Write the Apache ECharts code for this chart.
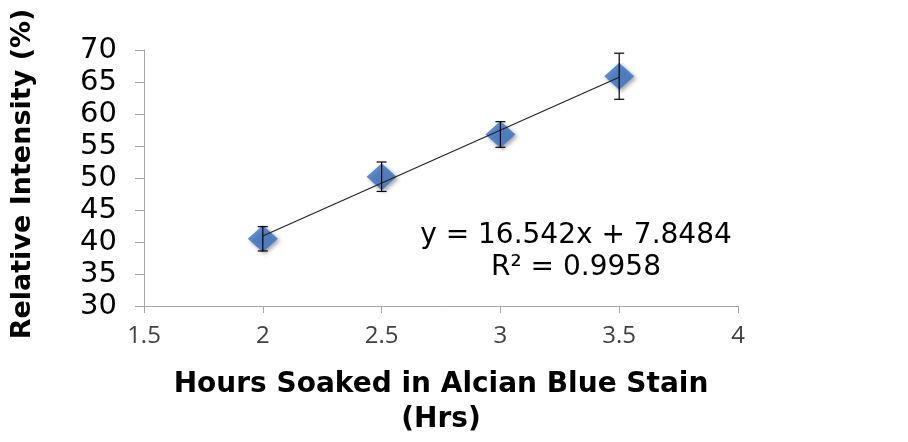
<!DOCTYPE html>
<html>
<head>
<meta charset="utf-8">
<script src="https://cdn.jsdelivr.net/npm/echarts@6/dist/echarts.min.js"></script>
<style>
html,body{margin:0;padding:0;background:#fff;}
#chart{width:908px;height:442px;}
</style>
</head>
<body>
<div id="chart"></div>
<script>
// Data
const hours = [2, 2.5, 3, 3.5];
const intensity = [40.5, 50.2, 56.8, 65.9];
const errorAmount = [1.9, 2.3, 2.0, 3.6];
// Linear trendline endpoints (as drawn)
const trendX = [2, 3.5];
const trendY = [40.93, 65.75];
const xTicks = [1.5, 2, 2.5, 3, 3.5, 4];
const yTicks = [30, 35, 40, 45, 50, 55, 60, 65, 70];
const equationText = 'y = 16.542x + 7.8484';
const r2Text = 'R² = 0.9958';
const xTitle = 'Hours Soaked in Alcian Blue Stain\n(Hrs)';
const yTitle = 'Relative Intensity (%)';

const chart = echarts.init(document.getElementById('chart'));
const points = hours.map((h, i) => [h, intensity[i]]);
const errData = hours.map((h, i) => [h, intensity[i] - errorAmount[i], intensity[i] + errorAmount[i]]);
const trendData = trendX.map((x, i) => [x, trendY[i]]);

const axisGray = '#a6a6a6';

chart.setOption({
  animation: false,
  backgroundColor: '#fff',
  grid: {left: 144, right: 170, top: 50, bottom: 135, containLabel: false},
  xAxis: {
    type: 'value',
    min: xTicks[0], max: xTicks[xTicks.length - 1], interval: 0.5,
    splitLine: {show: false},
    axisLine: {show: true, lineStyle: {color: axisGray, width: 1}},
    axisTick: {show: true, length: 7, lineStyle: {color: axisGray}},
    axisLabel: {fontFamily: 'Open Sans', fontSize: 24, color: '#404040', margin: 18},
    name: xTitle,
    nameLocation: 'middle',
    nameGap: 61,
    nameTextStyle: {fontFamily: 'DejaVu Sans', fontWeight: 'bold', fontSize: 28, color: '#000', lineHeight: 35}
  },
  yAxis: {
    type: 'value',
    min: yTicks[0], max: yTicks[yTicks.length - 1], interval: 5,
    splitLine: {show: false},
    axisLine: {show: true, lineStyle: {color: axisGray, width: 1}},
    axisTick: {show: true, length: 9, lineStyle: {color: axisGray}},
    axisLabel: {fontFamily: 'DejaVu Sans', fontSize: 29, color: '#000', margin: 27}
  },
  graphic: [
    {
      type: 'text', z: 10,
      x: 23, y: 174, rotation: Math.PI / 2,
      style: {text: yTitle, fontFamily: 'DejaVu Sans', fontWeight: 'bold', fontSize: 27, fill: '#000',
        textAlign: 'center', textVerticalAlign: 'middle'}
    },
    {
      type: 'text', z: 10, x: 576, y: 236,
      style: {text: equationText, fontFamily: 'DejaVu Sans', fontSize: 28, fill: '#000',
        textAlign: 'center', textVerticalAlign: 'middle'}
    },
    {
      type: 'text', z: 10, x: 576, y: 268,
      style: {text: r2Text, fontFamily: 'DejaVu Sans', fontSize: 28, fill: '#000',
        textAlign: 'center', textVerticalAlign: 'middle'}
    }
  ],
  series: [
    {
      type: 'scatter',
      data: points,
      symbol: 'diamond',
      symbolSize: [30, 27],
      z: 2,
      itemStyle: {color: '#3a72c4', shadowBlur: 4, shadowOffsetX: 2, shadowOffsetY: 2, shadowColor: 'rgba(0,0,0,0.45)'}
    },
    {
      type: 'line',
      data: trendData,
      symbol: 'none',
      z: 3,
      lineStyle: {color: '#222', width: 1.2}
    },
    {
      type: 'custom',
      z: 4,
      data: errData,
      renderItem: function (params, api) {
        const x = api.coord([api.value(0), api.value(1)])[0];
        const lo = api.coord([api.value(0), api.value(1)])[1];
        const hi = api.coord([api.value(0), api.value(2)])[1];
        const hw = 5;
        const st = {stroke: '#000', lineWidth: 1.2};
        return {
          type: 'group',
          children: [
            {type: 'line', shape: {x1: x, y1: lo, x2: x, y2: hi}, style: st},
            {type: 'line', shape: {x1: x - hw, y1: lo, x2: x + hw, y2: lo}, style: st},
            {type: 'line', shape: {x1: x - hw, y1: hi, x2: x + hw, y2: hi}, style: st}
          ]
        };
      }
    }
  ]
});
</script>
</body>
</html>
